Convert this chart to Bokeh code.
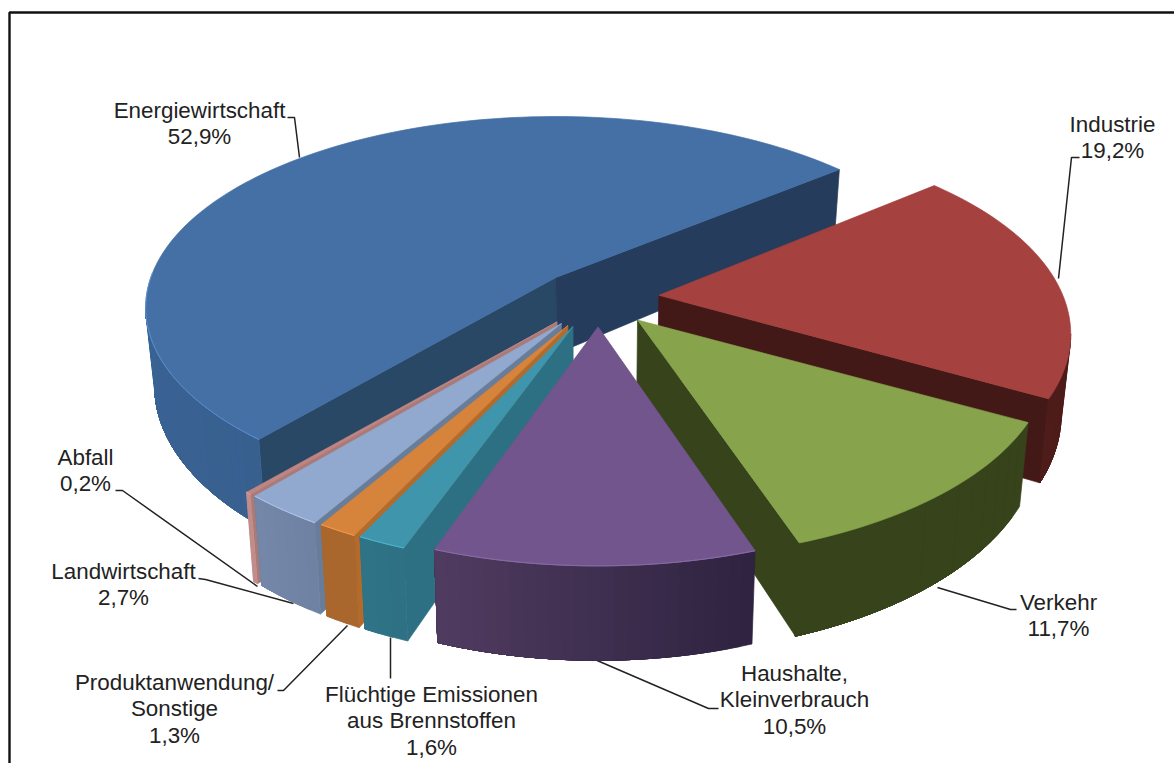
import math
from bokeh.plotting import figure
from bokeh.models import Range1d, ColumnDataSource
from bokeh.core.properties import value
from bokeh.embed import file_html
from bokeh.resources import INLINE

# ---- data (clockwise, as in the chart) ----
categories = ["Energiewirtschaft", "Industrie", "Verkehr", "Haushalte, Kleinverbrauch",
              "Flüchtige Emissionen aus Brennstoffen", "Produktanwendung/ Sonstige",
              "Landwirtschaft", "Abfall"]
shares = [52.9, 19.2, 11.7, 10.5, 1.6, 1.3, 2.7, 0.2]
share_labels = ["52,9%", "19,2%", "11,7%", "10,5%", "1,6%", "1,3%", "2,7%", "0,2%"]

# ---- styling ----
top_col = ["#4470a6", "#a5413f", "#87a44d", "#71558c", "#3f96ac", "#d6833b", "#91a8cf", "#c08582"]
arc_from = ["#38608f", "#451917", "#36431b", "#2e2340", "#2e7083", "#a9672d", "#6f82a2", "#c28d8a"]
arc_to = ["#4070aa", "#4e1c1a", "#36431b", "#503b60", "#2e7587", "#a9672d", "#7487a9", "#c28d8a"]
start_wall = ["#284866", "#431917", "#36431b", "#36431b", "#2e7083", "#b36a2a", "#687d99", "#a87a78"]
end_wall = ["#263c5c", "#431917", "#36431b", "#36431b", "#2e7083", "#b36a2a", "#687d99", "#a87a78"]
edge_col = ["#5a8fd0", None, None, "#8a6ea8", "#4fb5d0", "#f59a45", "#b0c4ee", "#d9a5a2"]
draw_order = [0, 1, 7, 6, 5, 4, 2, 3]

# ---- projection of the 3-D pie ----
START_DEG = 39.6
CX, CY = 598.0, 297.5
KX, KY, PERSP = 404.0, 192.4, 0.195
# the large slice is exploded away from the viewer, so it is seen with weaker perspective
BACK_KX, BACK_KY, BACK_PERSP = 405.0, 186.4, 0.158
# small per-slice turn (degrees) for the parallax of the exploded slices
PARALLAX_TURN = [0.0, 0.3, 0.6, 0.0, -0.7, -0.8, -0.8, -0.8]
PARALLAX_SHIFT = [0.0, 0.0, 0.0, 0.0, 2.0, 2.0, 2.0, 2.0]
EXPLODE = 0.15
HEIGHT = 76.0
BOTTOM_SCALE = 0.98


def rgb(h):
    return [int(h[i:i + 2], 16) for i in (1, 3, 5)]


def mix(a, b, t):
    ca, cb = rgb(a), rgb(b)
    return "#%02x%02x%02x" % tuple(round(x + (y - x) * t) for x, y in zip(ca, cb))


def top_pt(apex, th, back):
    kx, ky, per = (BACK_KX, BACK_KY, BACK_PERSP) if back else (KX, KY, PERSP)
    s = math.sin(th)
    d = 1 + per * s
    return apex[0] + kx * math.cos(th) / d, apex[1] - ky * s / d


def low_pt(pt, th):
    s = math.sin(th) if th is not None else 0.0
    return CX + BOTTOM_SCALE * (pt[0] - CX), pt[1] + HEIGHT / (1 + PERSP * s)


total = sum(shares)
xs, ys, fills = [], [], []


def add_poly(pts, col):
    xs.append([q[0] for q in pts])
    ys.append([q[1] for q in pts])
    fills.append(col)


slices = []
cursor = START_DEG + 360 * shares[0] / total
for i, v in enumerate(shares):
    a0 = math.radians(cursor + PARALLAX_TURN[i])
    cursor -= 360 * v / total
    slices.append((a0, math.radians(cursor + PARALLAX_TURN[i])))

for i in draw_order:
    a0, a1 = slices[i]
    mid = (a0 + a1) / 2
    apex = (CX + KX * EXPLODE * math.cos(mid) - PARALLAX_SHIFT[i],
            CY - KY * EXPLODE * math.sin(mid) + PARALLAX_SHIFT[i])
    n = max(2, int(abs(a0 - a1) / math.radians(1.5)))
    ths = [a0 + (a1 - a0) * j / n for j in range(n + 1)]
    arc = [top_pt(apex, t, i == 0) for t in ths]
    if arc[0][0] < apex[0]:
        add_poly([apex, arc[0], low_pt(arc[0], ths[0]), low_pt(apex, None)], start_wall[i])
    if apex[0] < arc[-1][0]:
        add_poly([arc[-1], apex, low_pt(apex, None), low_pt(arc[-1], ths[-1])], end_wall[i])
    # outer wall: only the front-facing run; bands overlap so that no seams show
    vis = [j for j in range(n) if arc[j + 1][0] < arc[j][0]]
    if vis:
        first, last = vis[0], vis[-1] + 1
        band_steps = max(1, (last - first) // 14)
        for j in range(first, last, band_steps):
            run = list(range(j, last + 1))
            pts = [arc[q] for q in run] + [low_pt(arc[q], ths[q]) for q in reversed(run)]
            add_poly(pts, mix(arc_from[i], arc_to[i], (j + band_steps / 2) / n))
    add_poly([apex] + arc, top_col[i])
    if edge_col[i]:
        keep = [q for q, t in zip(arc, ths) if math.sin(t) < 0.05]
        add_poly(keep + keep[::-1], edge_col[i])

p = figure(width=1174, height=763, output_backend="svg", toolbar_location=None,
           x_range=Range1d(0, 1174), y_range=Range1d(763, 0),
           x_axis_type=None, y_axis_type=None, min_border=0)
p.grid.visible = False
p.outline_line_color = None
p.background_fill_color = "white"
p.border_fill_color = "white"

# frame
p.line([9, 9, 1174], [763, 12, 12], line_color="#111111", line_width=2.4)

# leader lines
leaders = [
    ([287, 294, 299], [117, 117, 157]),
    ([1079, 1071, 1058], [157, 157, 278]),
    ([1016, 1010, 937], [609, 609, 587]),
    ([718, 708, 592], [708, 708, 658]),
    ([390, 390], [678, 637]),
    ([277, 283, 347], [690, 690, 625]),
    ([198, 205, 293], [578, 579, 603]),
    ([115, 122, 257], [490, 490, 586]),
]
for lx, ly in leaders:
    p.line(lx, ly, line_color="#222222", line_width=1.5)

p.patches(xs="xs", ys="ys", fill_color="fills", line_color="fills", line_width=0.7,
          source=ColumnDataSource(dict(xs=xs, ys=ys, fills=fills)))

# labels
label_lines = [
    ["Energiewirtschaft"], ["Industrie"], ["Verkehr"], ["Haushalte,", "Kleinverbrauch"],
    ["Flüchtige Emissionen", "aus Brennstoffen"], ["Produktanwendung/", "Sonstige"],
    ["Landwirtschaft"], ["Abfall"],
]
label_x = [199, 1112, 1058, 794, 431, 174, 123, 85]
label_y = [110, 124, 602, 673, 694, 682, 571, 457]
tx, ty, tt = [], [], []
for lines, sh, x0, y0 in zip(label_lines, share_labels, label_x, label_y):
    for k, s in enumerate(lines + [sh]):
        tx.append(x0)
        ty.append(y0 + k * 26.3)
        tt.append(s)
p.text(x="x", y="y", text="t", source=ColumnDataSource(dict(x=tx, y=ty, t=tt)),
       text_font=value("Liberation Sans"), text_font_size="22.4px", text_color="#222222",
       text_align="center", text_baseline="middle")

open("out.html", "w").write(file_html(p, INLINE))
